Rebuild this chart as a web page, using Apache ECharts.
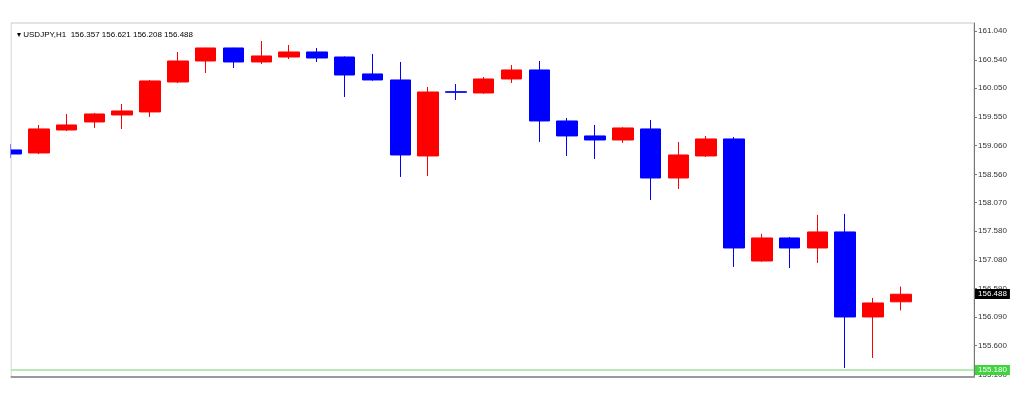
<!DOCTYPE html>
<html>
<head>
<meta charset="utf-8">
<script src="https://cdn.jsdelivr.net/npm/echarts@6/dist/echarts.min.js"></script>
<style>
  html, body { margin: 0; padding: 0; background: #fff; }
  #main { width: 1024px; height: 402px; }
</style>
</head>
<body>
<div id="main"></div>
<script>
// USDJPY H1 bars, oldest first (red = up, blue = down)
const opens  = [158.983, 158.931, 159.328, 159.467, 159.588, 159.640, 160.158, 160.521, 160.746, 160.504, 160.590, 160.677, 160.590, 160.297, 160.193, 158.879, 159.990, 159.968, 160.210, 160.366, 159.484, 159.225, 159.155, 159.346, 158.498, 158.879, 159.173, 157.063, 157.461, 157.288, 157.565, 156.095, 156.357];
const closes = [158.913, 159.346, 159.415, 159.605, 159.657, 160.176, 160.521, 160.746, 160.504, 160.608, 160.677, 160.573, 160.279, 160.193, 158.896, 159.985, 159.980, 160.210, 160.366, 159.484, 159.225, 159.155, 159.363, 158.498, 158.896, 159.173, 157.288, 157.461, 157.288, 157.565, 156.095, 156.337, 156.488];
const lows   = [158.844, 158.910, 159.310, 159.363, 159.346, 159.553, 160.141, 160.314, 160.400, 160.469, 160.556, 160.504, 159.899, 160.180, 158.516, 158.533, 159.847, 159.955, 160.141, 159.121, 158.879, 158.827, 159.104, 158.118, 158.308, 158.861, 156.960, 157.050, 156.942, 157.029, 155.213, 155.386, 156.208];
const highs  = [159.086, 159.415, 159.605, 159.622, 159.778, 160.193, 160.677, 160.750, 160.750, 160.867, 160.798, 160.746, 160.600, 160.642, 160.504, 160.072, 160.124, 160.245, 160.452, 160.521, 159.536, 159.415, 159.375, 159.501, 159.121, 159.225, 159.207, 157.530, 157.478, 157.859, 157.876, 156.424, 156.621];

const priceTicks = [155.100, 155.600, 156.090, 156.590, 157.080, 157.580, 158.070, 158.560, 159.060, 159.550, 160.050, 160.540, 161.040];
const symbolName = 'USDJPY,H1';
const lastBar = [156.357, 156.621, 156.208, 156.488]; // O H L C
const bidPrice = 156.488;
const levelPrice = 155.180;

const bars = opens.map((o, i) => [i, o, closes[i], lows[i], highs[i]]);

const font = 'Liberation Sans, DejaVu Sans, sans-serif';
const chart = echarts.init(document.getElementById('main'));

chart.setOption({
  animation: false,
  backgroundColor: '#fff',
  title: {
    text: '\u25BE ' + symbolName + '  ' + lastBar.map(v => v.toFixed(3)).join(' '),
    left: 12,
    top: 26,
    textStyle: { fontSize: 8, fontWeight: 'normal', color: '#000', fontFamily: font }
  },
  grid: {
    left: 11, right: 50, top: 23, bottom: 25,
    show: true, borderColor: '#c8c8c8', borderWidth: 1, backgroundColor: '#fff'
  },
  // candlestick only drops whole boxes outside the grid, so hide the overhang of the first bar
  graphic: [{
    type: 'rect', left: 0, top: 0, z: 100,
    shape: { width: 10.5, height: 402 },
    style: { fill: '#fff' }
  }],
  xAxis: {
    type: 'value',
    min: 0,
    max: 34.63,
    axisLine: { show: true, onZero: false, lineStyle: { color: '#999', width: 2 } },
    axisTick: { show: false },
    axisLabel: { show: false },
    splitLine: { show: false }
  },
  yAxis: {
    type: 'value',
    position: 'right',
    min: 155.057,
    max: 161.178,
    splitLine: { show: false },
    axisLine: { show: true, onZero: false, lineStyle: { color: '#777' } },
    axisTick: { show: true, length: 3, customValues: priceTicks, lineStyle: { color: '#777' } },
    axisLabel: {
      customValues: priceTicks,
      formatter: v => v.toFixed(3),
      fontSize: 8, color: '#333', margin: 4, fontFamily: font
    }
  },
  series: [{
    type: 'candlestick',
    clip: true,
    data: bars,
    encode: { x: 0, y: [1, 2, 3, 4] },
    barWidth: 21,
    itemStyle: {
      color: '#ff0000', color0: '#0000ff',
      borderColor: '#ff0000', borderColor0: '#0000ff', borderWidth: 1
    },
    markLine: {
      silent: true,
      symbol: 'none',
      data: [
        {
          yAxis: levelPrice,
          lineStyle: { color: '#9fe39f', width: 1.5, type: 'solid' },
          label: {
            show: true, position: 'end', distance: 1,
            formatter: levelPrice.toFixed(3),
            backgroundColor: '#3fd43f', color: '#fff', fontSize: 8, fontFamily: font,
            padding: [1, 3]
          }
        },
        {
          yAxis: bidPrice,
          lineStyle: { color: 'rgba(0,0,0,0)', width: 1 },
          label: {
            show: true, position: 'end', distance: 1,
            formatter: bidPrice.toFixed(3),
            backgroundColor: '#000', color: '#fff', fontSize: 8, fontFamily: font,
            padding: [1, 3]
          }
        }
      ]
    }
  }]
});
</script>
</body>
</html>
